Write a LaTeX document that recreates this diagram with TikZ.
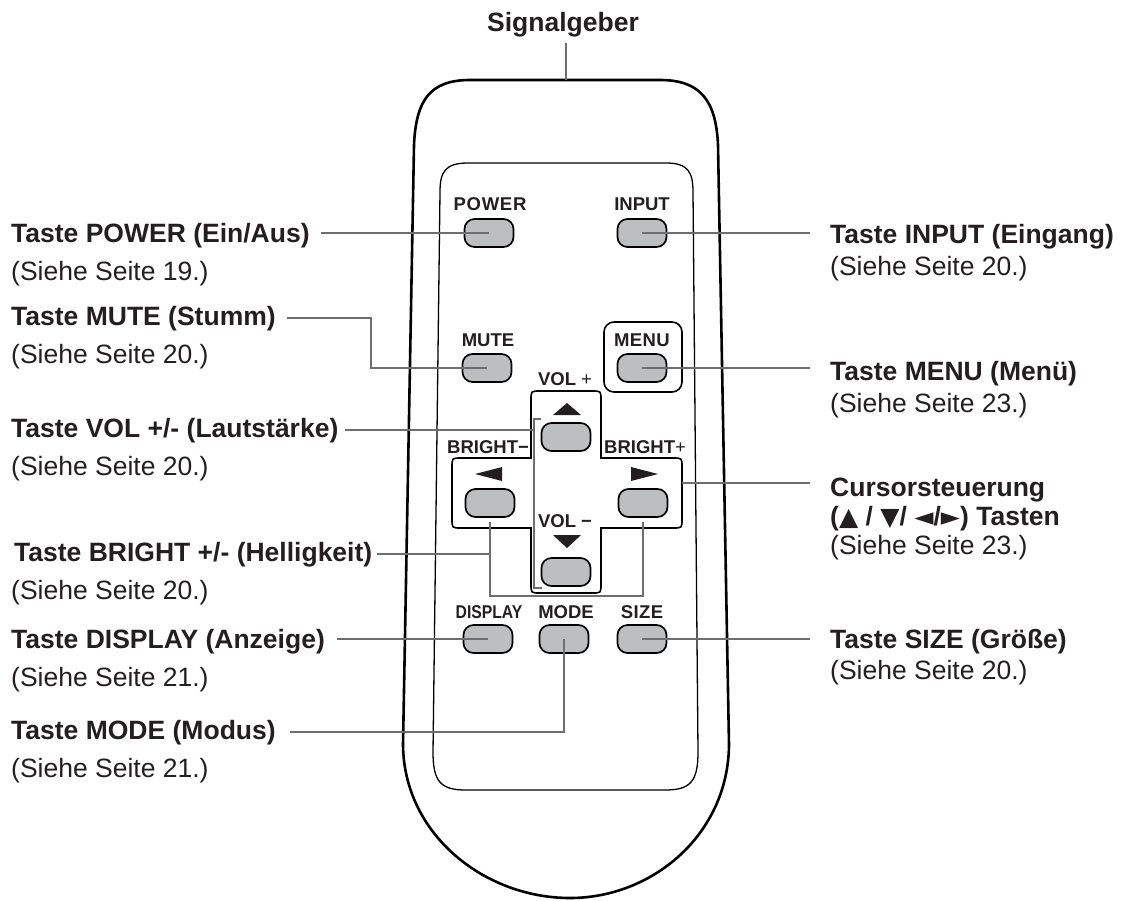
\documentclass[tikz,border=0pt]{standalone}
\usepackage{fontspec}
\setmainfont{Liberation Sans}
\newfontfamily\symbolfont{DejaVu Sans}
\usepackage{tikz}
\definecolor{Ink}{HTML}{231F20}
\definecolor{Lead}{HTML}{6D6E71}
\definecolor{KeyGray}{HTML}{BCBEC0}
\newcommand{\cursym}[1]{{\symbolfont\fontsize{25}{26}\selectfont #1}}
\tikzset{
  callout/.style={anchor=base west,inner sep=0pt,text=Ink,font=\fontsize{26.5}{32}\selectfont\bfseries},
  seepage/.style={anchor=base west,inner sep=0pt,text=Ink,font=\fontsize{26.5}{32}\selectfont},
  keybtn/.style={rectangle,rounded corners=10pt,minimum width=49pt,minimum height=28pt,inner sep=0pt,
    draw=black,line width=1.7pt,fill=KeyGray},
  keytag/.style={anchor=base,inner sep=0pt,text=Ink,font=\fontsize{18.5}{21}\selectfont\bfseries},
  leader/.style={draw=Lead,line width=2.2pt},
}

\begin{document}
\begin{tikzpicture}[x=1pt,y=-1pt]
    \useasboundingbox (0,0) rectangle (1123,900);

    % housing and key panel
    \draw[line width=2.6pt] (470,80) -- (660,80) .. controls (700,80) and (716,100) .. (718,145)
      -- (729,745) .. controls (728,835) and (652,898) .. (570,898)
      .. controls (485,898) and (404,835) .. (403,745)
      -- (414,145) .. controls (416,100) and (430,80) .. (470,80) -- cycle;
    \draw[line width=1.3pt] (468,163) -- (666,163) .. controls (688,163) and (693,172) .. (693,192)
      -- (698,752) .. controls (698,782) and (690,790) .. (665,790)
      -- (466,790) .. controls (441,790) and (433,782) .. (433,752)
      -- (440,192) .. controls (440,172) and (445,163) .. (468,163) -- cycle;

    % cursor cross and menu frame
    \draw[line width=1.6pt] (531,458) -- (531,400) .. controls (531,391) .. (540,391)
      -- (592,391) .. controls (601,391) .. (601,400) -- (601,458)
      -- (673,458) .. controls (682,458) .. (682,467) -- (682,519) .. controls (682,528) .. (673,528)
      -- (601,528) -- (601,584) .. controls (601,593) .. (592,593)
      -- (540,593) .. controls (531,593) .. (531,584) -- (531,528)
      -- (461,528) .. controls (452,528) .. (452,519) -- (452,467) .. controls (452,458) .. (461,458) -- cycle;
    \draw[line width=1.6pt,rounded corners=10pt] (604,322) rectangle (682,392);

    \fill[Ink] (553,415) -- (567,403) -- (581,415) -- cycle;
    \fill[Ink] (553,535) -- (581,535) -- (567,548) -- cycle;
    \fill[Ink] (502,467) -- (475,474) -- (502,481) -- cycle;
    \fill[Ink] (631,467) -- (658,474) -- (631,481) -- cycle;

    % keys
    \node[keybtn] (powerkey) at (489,233) {};
    \node[keybtn] (inputkey) at (642,233) {};
    \node[keybtn] (mutekey) at (487,368) {};
    \node[keybtn] (menukey) at (642,368) {};
    \node[keybtn] (volupkey) at (566,437) {};
    \node[keybtn] (brdnkey) at (490,503) {};
    \node[keybtn] (brupkey) at (643,503) {};
    \node[keybtn] (voldnkey) at (566,572) {};
    \node[keybtn] (displaykey) at (488,639) {};
    \node[keybtn] (modekey) at (564,639) {};
    \node[keybtn] (sizekey) at (642,639) {};

    \node[keytag] (powertag) at (490,210) {\addfontfeature{LetterSpace=4}POWER};
    \node[keytag] (inputtag) at (642,210) {INPUT};
    \node[keytag] (mutetag) at (488,346) {MUTE};
    \node[keytag] (menutag) at (642,346) {\addfontfeature{LetterSpace=2}MENU};
    \node[keytag] (voluptag) at (565,385) {VOL {\mdseries+}};
    \node[keytag] (brdntag) at (488,453) {BRIGHT−};
    \node[keytag] (bruptag) at (645,453) {BRIGHT{\mdseries+}};
    \node[keytag] (voldntag) at (565,527) {VOL −};
    \node[keytag] (displaytag) at (489,618) {\addfontfeature{FakeStretch=0.85}DISPLAY};
    \node[keytag] (modetag) at (566,618) {MODE};
    \node[keytag] (sizetag) at (642,618) {\addfontfeature{LetterSpace=2}SIZE};

    % callouts
    \node[callout,anchor=base] (sender) at (563,31) {Signalgeber};

    \node[callout] (powerlbl) at (11,242) {Taste POWER (Ein/Aus)};
    \node[seepage] (powerpg) at (11,280) {(Siehe Seite 19.)};
    \node[callout] (mutelbl) at (11,325) {Taste MUTE (Stumm)};
    \node[seepage] (mutepg) at (11,363) {(Siehe Seite 20.)};
    \node[callout] (vollbl) at (11,437) {Taste VOL +/- (Lautstärke)};
    \node[seepage] (volpg) at (11,475) {(Siehe Seite 20.)};
    \node[callout] (brightlbl) at (14,561) {Taste BRIGHT +/- (Helligkeit)};
    \node[seepage] (brightpg) at (11,599) {(Siehe Seite 20.)};
    \node[callout] (displaylbl) at (11,648) {Taste DISPLAY (Anzeige)};
    \node[seepage] (displaypg) at (11,686) {(Siehe Seite 21.)};
    \node[callout] (modelbl) at (11,739) {Taste MODE (Modus)};
    \node[seepage] (modepg) at (11,777) {(Siehe Seite 21.)};

    \node[callout] (inputlbl) at (830,243) {Taste INPUT (Eingang)};
    \node[seepage] (inputpg) at (830,275) {(Siehe Seite 20.)};
    \node[callout] (menulbl) at (830,380) {Taste MENU (Menü)};
    \node[seepage] (menupg) at (830,412) {(Siehe Seite 23.)};
    \node[callout] (cursorlbl) at (830,496) {Cursorsteuerung};
    \node[callout] (cursorkeys) at (830,525) {(\cursym{▲} / \cursym{▼}/ \cursym{◄}/\cursym{►}) Tasten};
    \node[seepage] (cursorpg) at (830,554) {(Siehe Seite 23.)};
    \node[callout] (sizelbl) at (830,648) {Taste SIZE (Größe)};
    \node[seepage] (sizepg) at (830,679) {(Siehe Seite 20.)};

    \coordinate (emitter) at (566,80);
    \coordinate (mutebend) at (371,368);
    \coordinate (voltop) at (534,419);
    \coordinate (volbot) at (534,588);
    \coordinate (crossedge) at (682,483);

    % leader lines
    \draw[leader] (emitter) -- ([yshift=-6pt]emitter |- sender.south);
    \draw[leader] ([xshift=11pt]powerlbl.east |- powerkey) -- (powerkey.center);
    \draw[leader] ([xshift=11pt]mutelbl.east) -| (mutebend) -- (mutekey.center);
    \draw[leader] ([xshift=6pt]vollbl.east) -- (vollbl.east -| voltop);
    \draw[leader] ([xshift=7pt]voltop) -- (voltop) -- (volbot) -- ++(8,0);
    \draw[leader] ([xshift=5pt]brightlbl.east) -- (brightlbl.east -| brdnkey);
    \draw[leader] ([yshift=-4pt]brdnkey.south) -- ++(0,74) -| ([yshift=-4pt]brupkey.south);
    \draw[leader] ([xshift=12pt]displaylbl.east |- displaykey) -- (displaykey.center);
    \draw[leader] ([xshift=14pt]modelbl.east) -| (modekey.center);
    \draw[leader] (inputkey.center) -- ([xshift=-20pt]inputlbl.west |- inputkey);
    \draw[leader] (menukey.center) -- ([xshift=-20pt]menulbl.west |- menukey);
    \draw[leader] (crossedge) -- ([xshift=-20pt]cursorlbl.west |- crossedge);
    \draw[leader] (sizekey.center) -- ([xshift=-20pt]sizelbl.west |- sizekey);
\end{tikzpicture}
\end{document}
